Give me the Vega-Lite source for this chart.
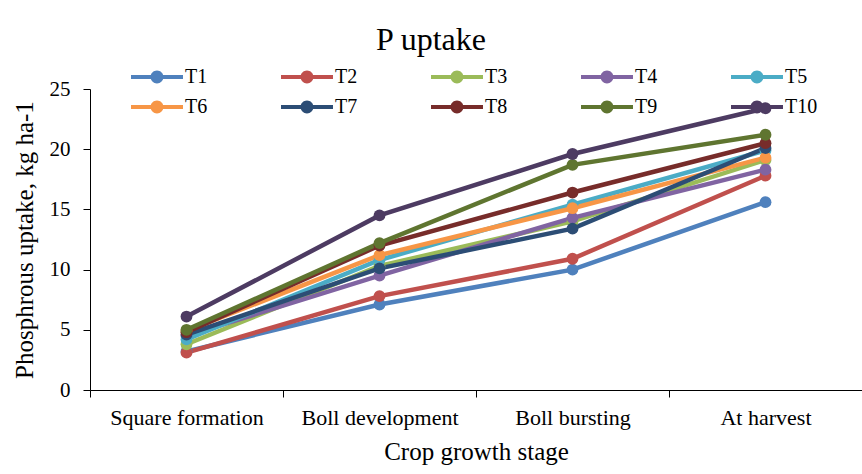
{
  "$schema": "https://vega.github.io/schema/vega-lite/v6.json",
  "autosize": "none",
  "padding": {"left": 90, "top": 89, "right": 0, "bottom": 84},
  "width": 772,
  "height": 301,
  "background": "white",
  "title": {
    "text": "P uptake",
    "font": "Liberation Serif",
    "fontSize": 32,
    "fontWeight": "normal",
    "color": "#000",
    "anchor": "middle",
    "dx": -45,
    "offset": 10
  },
  "data": {
    "values": [
      {"t": "T1", "stage": "Square formation", "v": 3.2},
      {"t": "T1", "stage": "Boll development", "v": 7.1},
      {"t": "T1", "stage": "Boll bursting", "v": 10.0},
      {"t": "T1", "stage": "At harvest", "v": 15.6},
      {"t": "T2", "stage": "Square formation", "v": 3.1},
      {"t": "T2", "stage": "Boll development", "v": 7.8},
      {"t": "T2", "stage": "Boll bursting", "v": 10.9},
      {"t": "T2", "stage": "At harvest", "v": 17.8},
      {"t": "T3", "stage": "Square formation", "v": 3.8},
      {"t": "T3", "stage": "Boll development", "v": 10.3},
      {"t": "T3", "stage": "Boll bursting", "v": 14.0},
      {"t": "T3", "stage": "At harvest", "v": 19.1},
      {"t": "T4", "stage": "Square formation", "v": 4.5},
      {"t": "T4", "stage": "Boll development", "v": 9.5},
      {"t": "T4", "stage": "Boll bursting", "v": 14.3},
      {"t": "T4", "stage": "At harvest", "v": 18.3},
      {"t": "T5", "stage": "Square formation", "v": 4.2},
      {"t": "T5", "stage": "Boll development", "v": 10.8},
      {"t": "T5", "stage": "Boll bursting", "v": 15.4},
      {"t": "T5", "stage": "At harvest", "v": 19.9},
      {"t": "T6", "stage": "Square formation", "v": 4.9},
      {"t": "T6", "stage": "Boll development", "v": 11.2},
      {"t": "T6", "stage": "Boll bursting", "v": 15.1},
      {"t": "T6", "stage": "At harvest", "v": 19.3},
      {"t": "T7", "stage": "Square formation", "v": 4.6},
      {"t": "T7", "stage": "Boll development", "v": 10.1},
      {"t": "T7", "stage": "Boll bursting", "v": 13.4},
      {"t": "T7", "stage": "At harvest", "v": 20.1},
      {"t": "T8", "stage": "Square formation", "v": 4.8},
      {"t": "T8", "stage": "Boll development", "v": 12.0},
      {"t": "T8", "stage": "Boll bursting", "v": 16.4},
      {"t": "T8", "stage": "At harvest", "v": 20.5},
      {"t": "T9", "stage": "Square formation", "v": 5.0},
      {"t": "T9", "stage": "Boll development", "v": 12.2},
      {"t": "T9", "stage": "Boll bursting", "v": 18.7},
      {"t": "T9", "stage": "At harvest", "v": 21.2},
      {"t": "T10", "stage": "Square formation", "v": 6.1},
      {"t": "T10", "stage": "Boll development", "v": 14.5},
      {"t": "T10", "stage": "Boll bursting", "v": 19.6},
      {"t": "T10", "stage": "At harvest", "v": 23.4}
    ]
  },
  "mark": {
    "type": "line",
    "strokeWidth": 4.5,
    "point": {"filled": true, "size": 140, "opacity": 1}
  },
  "encoding": {
    "x": {
      "field": "stage",
      "type": "nominal",
      "sort": ["Square formation", "Boll development", "Boll bursting", "At harvest"],
      "scale": {"type": "band", "paddingInner": 0, "paddingOuter": 0},
      "axis": {
        "title": "Crop growth stage",
        "labelAngle": 0,
        "tickBand": "extent",
        "tickSize": 7,
        "labelPadding": 10,
        "titlePadding": 11
      }
    },
    "y": {
      "field": "v",
      "type": "quantitative",
      "scale": {"domain": [0, 25]},
      "axis": {
        "title": "Phosphrous uptake, kg ha-1",
        "values": [0, 5, 10, 15, 20, 25],
        "grid": false,
        "tickSize": 7,
        "labelPadding": 13,
        "titlePadding": 12
      }
    },
    "color": {
      "field": "t",
      "type": "nominal",
      "scale": {
        "domain": ["T1", "T2", "T3", "T4", "T5", "T6", "T7", "T8", "T9", "T10"],
        "range": ["#4F81BD", "#C0504D", "#9BBB59", "#8064A2", "#4BACC6", "#F79646", "#2C4D75", "#772C2A", "#5F7530", "#4D3B62"]
      },
      "legend": {
        "title": null,
        "orient": "none",
        "legendX": 57,
        "legendY": -22,
        "direction": "horizontal",
        "columns": 5,
        "gridAlign": "all",
        "columnPadding": 63,
        "rowPadding": 10,
        "padding": 0,
        "symbolType": "M-4.33,-0.33 H4.33 V0.33 H-4.33 Z M-1.08,0 A1.08,1.08 0 1,1 1.08,0 A1.08,1.08 0 1,1 -1.08,0 Z",
        "symbolSize": 144,
        "symbolStrokeWidth": 0,
        "symbolOpacity": 1,
        "labelOffset": 18,
        "labelFont": "Liberation Serif",
        "labelFontSize": 20,
        "labelColor": "#000"
      }
    }
  },
  "config": {
    "view": {"stroke": null},
    "axis": {
      "domainColor": "#000",
      "tickColor": "#000",
      "labelColor": "#000",
      "titleColor": "#000",
      "labelFont": "Liberation Serif",
      "titleFont": "Liberation Serif",
      "labelFontSize": 21,
      "titleFontSize": 25,
      "titleFontWeight": "normal",
      "domainWidth": 1,
      "tickWidth": 1
    },
    "axisX": {"labelFontSize": 22},
    "legend": {"symbolFillColor": null}
  }
}
